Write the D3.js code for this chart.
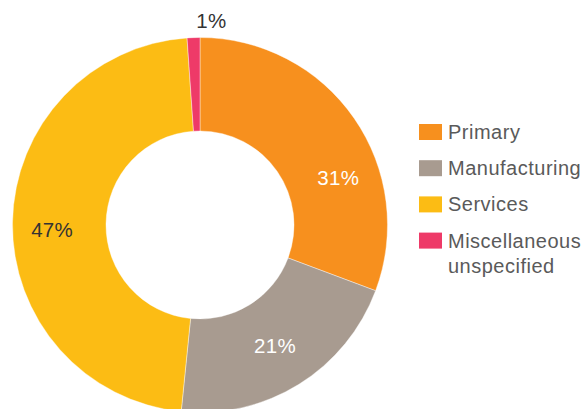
<!DOCTYPE html>
<html><head><meta charset="utf-8">
<script src="https://cdn.jsdelivr.net/npm/d3@7"></script>
<style>body{margin:0;background:#fff;}svg{display:block;font-family:"Liberation Sans",Arial,Helvetica,sans-serif;}</style>
</head><body>
<script>
const categories = ["Primary", "Manufacturing", "Services", "Miscellaneous unspecified"];
const values = [30.7, 20.9, 47.3, 1.1];
const valueLabels = ["31%", "21%", "47%", "1%"];
const colors = ["#F7901E", "#A89B90", "#FCBC14", "#EE3A68"];
const legendLines = [["Primary"], ["Manufacturing"], ["Services"], ["Miscellaneous", "unspecified"]];

const W = 587, H = 409;
const cx = 200, cy = 225, R = 187.5, r = 94;
const svg = d3.select("body").append("svg").attr("width", W).attr("height", H);
const g = svg.append("g").attr("transform", `translate(${cx},${cy})`);

const pie = d3.pie().sort(null).value(d => d)(values);
const arc = d3.arc().innerRadius(r).outerRadius(R);
g.selectAll("path").data(pie).enter().append("path")
  .attr("d", arc).attr("fill", (d, i) => colors[i])
  .attr("stroke", "#fff").attr("stroke-width", 0.4);

const labelFill = ["#fff", "#fff", "#333", "#333"];
const labelR = [146, 142, 148, 205];
const angleShift = [0.28, 0, -0.05, 0.09];
pie.forEach((d, i) => {
  const a = (d.startAngle + d.endAngle) / 2 + angleShift[i];
  const x = Math.sin(a) * labelR[i], y = -Math.cos(a) * labelR[i];
  g.append("text").attr("x", x).attr("y", y).attr("dy", "0.35em")
    .attr("text-anchor", "middle").attr("font-size", 20.5).attr("letter-spacing", 0.3)
    .attr("fill", labelFill[i]).text(valueLabels[i]);
});

const lg = svg.append("g").attr("transform", "translate(419,124)");
categories.forEach((c, i) => {
  const row = lg.append("g").attr("transform", `translate(0,${i * 36.2})`);
  row.append("rect").attr("width", 23).attr("height", 16).attr("fill", colors[i]);
  const t = row.append("text").attr("x", 29).attr("y", 15)
    .attr("font-size", 20).attr("letter-spacing", 0.5).attr("fill", "#5a5a5a");
  legendLines[i].forEach((l, j) => {
    t.append("tspan").attr("x", 29).attr("dy", j === 0 ? 0 : 25).text(l);
  });
});
</script>
</body></html>
